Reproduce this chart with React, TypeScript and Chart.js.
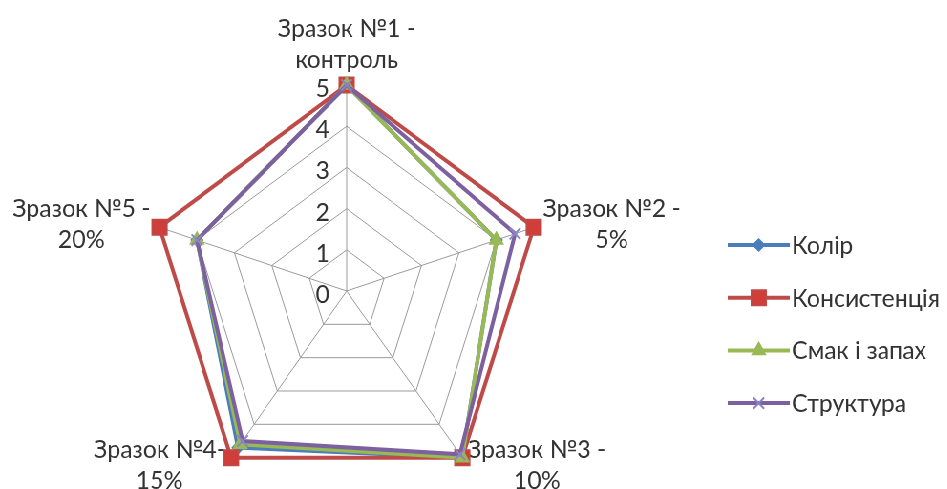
import React, { useEffect, useRef } from "react";
import { Chart, registerables } from "chart.js";

Chart.register(...registerables);

// ---------- data ----------
const categories: string[][] = [
  ["Зразок №1 -", "контроль"],
  ["Зразок №2 -", "5%"],
  ["Зразок №3 -", "10%"],
  ["Зразок №4-", "15%"],
  ["Зразок №5 -", "20%"],
];
const seriesNames = ["Колір", "Консистенція", "Смак і запах", "Структура"];
const kolir = [5, 4, 5, 4.7, 4];
const konsystentsiia = [5, 5, 5, 5, 5];
const smakZapakh = [5, 4, 5, 4.6, 4];
const struktura = [5, 4.5, 4.9, 4.5, 4];
const tickLabels = ["0", "1", "2", "3", "4", "5"];

// ---------- styling / layout ----------
const SX = 0.955;
const W = Math.round(947 / SX);
const H = 489;
const CX = 363;
const CY = 291;
const R = 206;
const FONT = "Lato, 'Open Sans', sans-serif";
const FS = 25;
const LH = 31;
const TEXT = "#333333";
const GRID = "#9a9a9a";

const colors = ["#4A7EBB", "#BE4B48", "#98B954", "#7D60A0"];
const markerStyles = ["rectRot", "rect", "triangle", "crossRot"];
const markerRadius = [6, 11, 8, 8];
const markerFill = ["#4A7EBB", "#D03E3A", "#98B954", "#8C84C8"];
const markerStroke = ["#4A7EBB", "#BE4B48", "#98B954", "#8C84C8"];

function drawMarker(
  ctx: CanvasRenderingContext2D,
  style: string,
  x: number,
  y: number,
  r: number,
  fill: string,
  stroke: string
) {
  ctx.save();
  ctx.fillStyle = fill;
  ctx.strokeStyle = stroke;
  ctx.lineWidth = 1.5;
  ctx.beginPath();
  if (style === "rectRot") {
    ctx.moveTo(x, y - r);
    ctx.lineTo(x + r, y);
    ctx.lineTo(x, y + r);
    ctx.lineTo(x - r, y);
    ctx.closePath();
    ctx.fill();
    ctx.stroke();
  } else if (style === "rect") {
    const s = r * Math.SQRT1_2;
    ctx.rect(x - s, y - s, 2 * s, 2 * s);
    ctx.fill();
    ctx.stroke();
  } else if (style === "triangle") {
    let a = 0;
    ctx.moveTo(x + Math.sin(a) * r, y - Math.cos(a) * r);
    a += (2 * Math.PI) / 3;
    ctx.lineTo(x + Math.sin(a) * r, y - Math.cos(a) * r);
    a += (2 * Math.PI) / 3;
    ctx.lineTo(x + Math.sin(a) * r, y - Math.cos(a) * r);
    ctx.closePath();
    ctx.fill();
    ctx.stroke();
  } else if (style === "crossRot") {
    ctx.lineWidth = 2;
    const s = r * Math.SQRT1_2;
    ctx.moveTo(x - s, y - s);
    ctx.lineTo(x + s, y + s);
    ctx.moveTo(x - s, y + s);
    ctx.lineTo(x + s, y - s);
    ctx.stroke();
  }
  ctx.restore();
}

const labelPlugin = {
  id: "customLabels",
  beforeDatasetsDraw(chart: any) {
    const s = chart.scales.r;
    const ctx: CanvasRenderingContext2D = chart.ctx;
    ctx.save();
    ctx.font = `${FS}px ${FONT}`;
    ctx.fillStyle = TEXT;
    ctx.textBaseline = "middle";
    // tick labels
    ctx.textAlign = "right";
    s.ticks.forEach((t: any, i: number) => {
      const d = s.getDistanceFromCenterForValue(t.value);
      const p = s.getPointPosition(0, d);
      ctx.fillText(tickLabels[i] ?? String(t.value), p.x - 18, p.y + 4);
    });
    // point labels
    categories.forEach((lines, i) => {
      const p = s.getPointPosition(i, s.drawingArea + 10);
      const bw = Math.max(...lines.map((l) => ctx.measureText(l).width));
      const bh = lines.length * LH;
      const dx = p.x - s.xCenter;
      let left: number;
      let top: number;
      if (Math.abs(dx) < 1) {
        left = p.x - bw / 2;
        top = p.y - bh;
      } else if (dx > 0) {
        left = p.x;
        top = p.y - bh / 2;
      } else {
        left = p.x - bw;
        top = p.y - bh / 2;
      }
      ctx.textAlign = "center";
      lines.forEach((l, j) => ctx.fillText(l, left + bw / 2, top + LH * j + LH / 2));
    });
    ctx.restore();
  },
};

const LEG_X = 762;
const LEG_Y = 245;
const LEG_GAP = 52.7;
const LEG_LINE = 65;

const legendPlugin = {
  id: "customLegend",
  afterDraw(chart: any) {
    const ctx: CanvasRenderingContext2D = chart.ctx;
    ctx.save();
    ctx.font = `${FS}px ${FONT}`;
    ctx.textBaseline = "middle";
    ctx.textAlign = "left";
    seriesNames.forEach((name, i) => {
      const y = LEG_Y + i * LEG_GAP;
      ctx.strokeStyle = colors[i];
      ctx.lineWidth = 4;
      ctx.beginPath();
      ctx.moveTo(LEG_X, y);
      ctx.lineTo(LEG_X + LEG_LINE, y);
      ctx.stroke();
      drawMarker(ctx, markerStyles[i], LEG_X + LEG_LINE / 2, y, markerRadius[i], markerFill[i], markerStroke[i]);
      ctx.fillStyle = TEXT;
      ctx.fillText(name, LEG_X + LEG_LINE + 2, y + 1);
    });
    ctx.restore();
  },
};

const seriesValues = [kolir, konsystentsiia, smakZapakh, struktura];

export default function App() {
  const ref = useRef<HTMLCanvasElement>(null);
  useEffect(() => {
    document.body.style.margin = "0";
    document.body.style.overflow = "hidden";
    const chart = new Chart(ref.current as HTMLCanvasElement, {
      type: "radar",
      data: {
        labels: categories.map((c) => c.join(" ")),
        datasets: seriesNames.map((name, i) => ({
          label: name,
          data: seriesValues[i],
          borderColor: colors[i],
          backgroundColor: "rgba(0,0,0,0)",
          borderWidth: 4,
          fill: false,
          tension: 0,
          pointStyle: markerStyles[i] as any,
          pointRadius: markerRadius[i],
          pointBackgroundColor: markerFill[i],
          pointBorderColor: markerStroke[i],
          pointBorderWidth: i === 3 ? 2 : 1.5,
          order: 4 - i,
        })),
      },
      options: {
        animation: false,
        responsive: true,
        maintainAspectRatio: false,
        layout: { padding: 0 },
        plugins: {
          legend: { display: false },
          tooltip: { enabled: false },
        },
        scales: {
          r: {
            min: 0,
            max: 5,
            ticks: { display: false, stepSize: 1 },
            pointLabels: { display: false },
            grid: { color: GRID, lineWidth: 1 },
            angleLines: { color: GRID, lineWidth: 1 },
            afterFit: (scale: any) => {
              scale.xCenter = CX;
              scale.yCenter = CY;
              scale.drawingArea = R;
            },
          } as any,
        },
      },
      plugins: [labelPlugin, legendPlugin],
    });
    return () => chart.destroy();
  }, []);
  return (
    <div
      style={{
        position: "absolute",
        left: 0,
        top: 0,
        width: W,
        height: H,
        transform: `scaleX(${SX})`,
        transformOrigin: "0 0",
        background: "#ffffff",
      }}
    >
      <canvas ref={ref} />
    </div>
  );
}
